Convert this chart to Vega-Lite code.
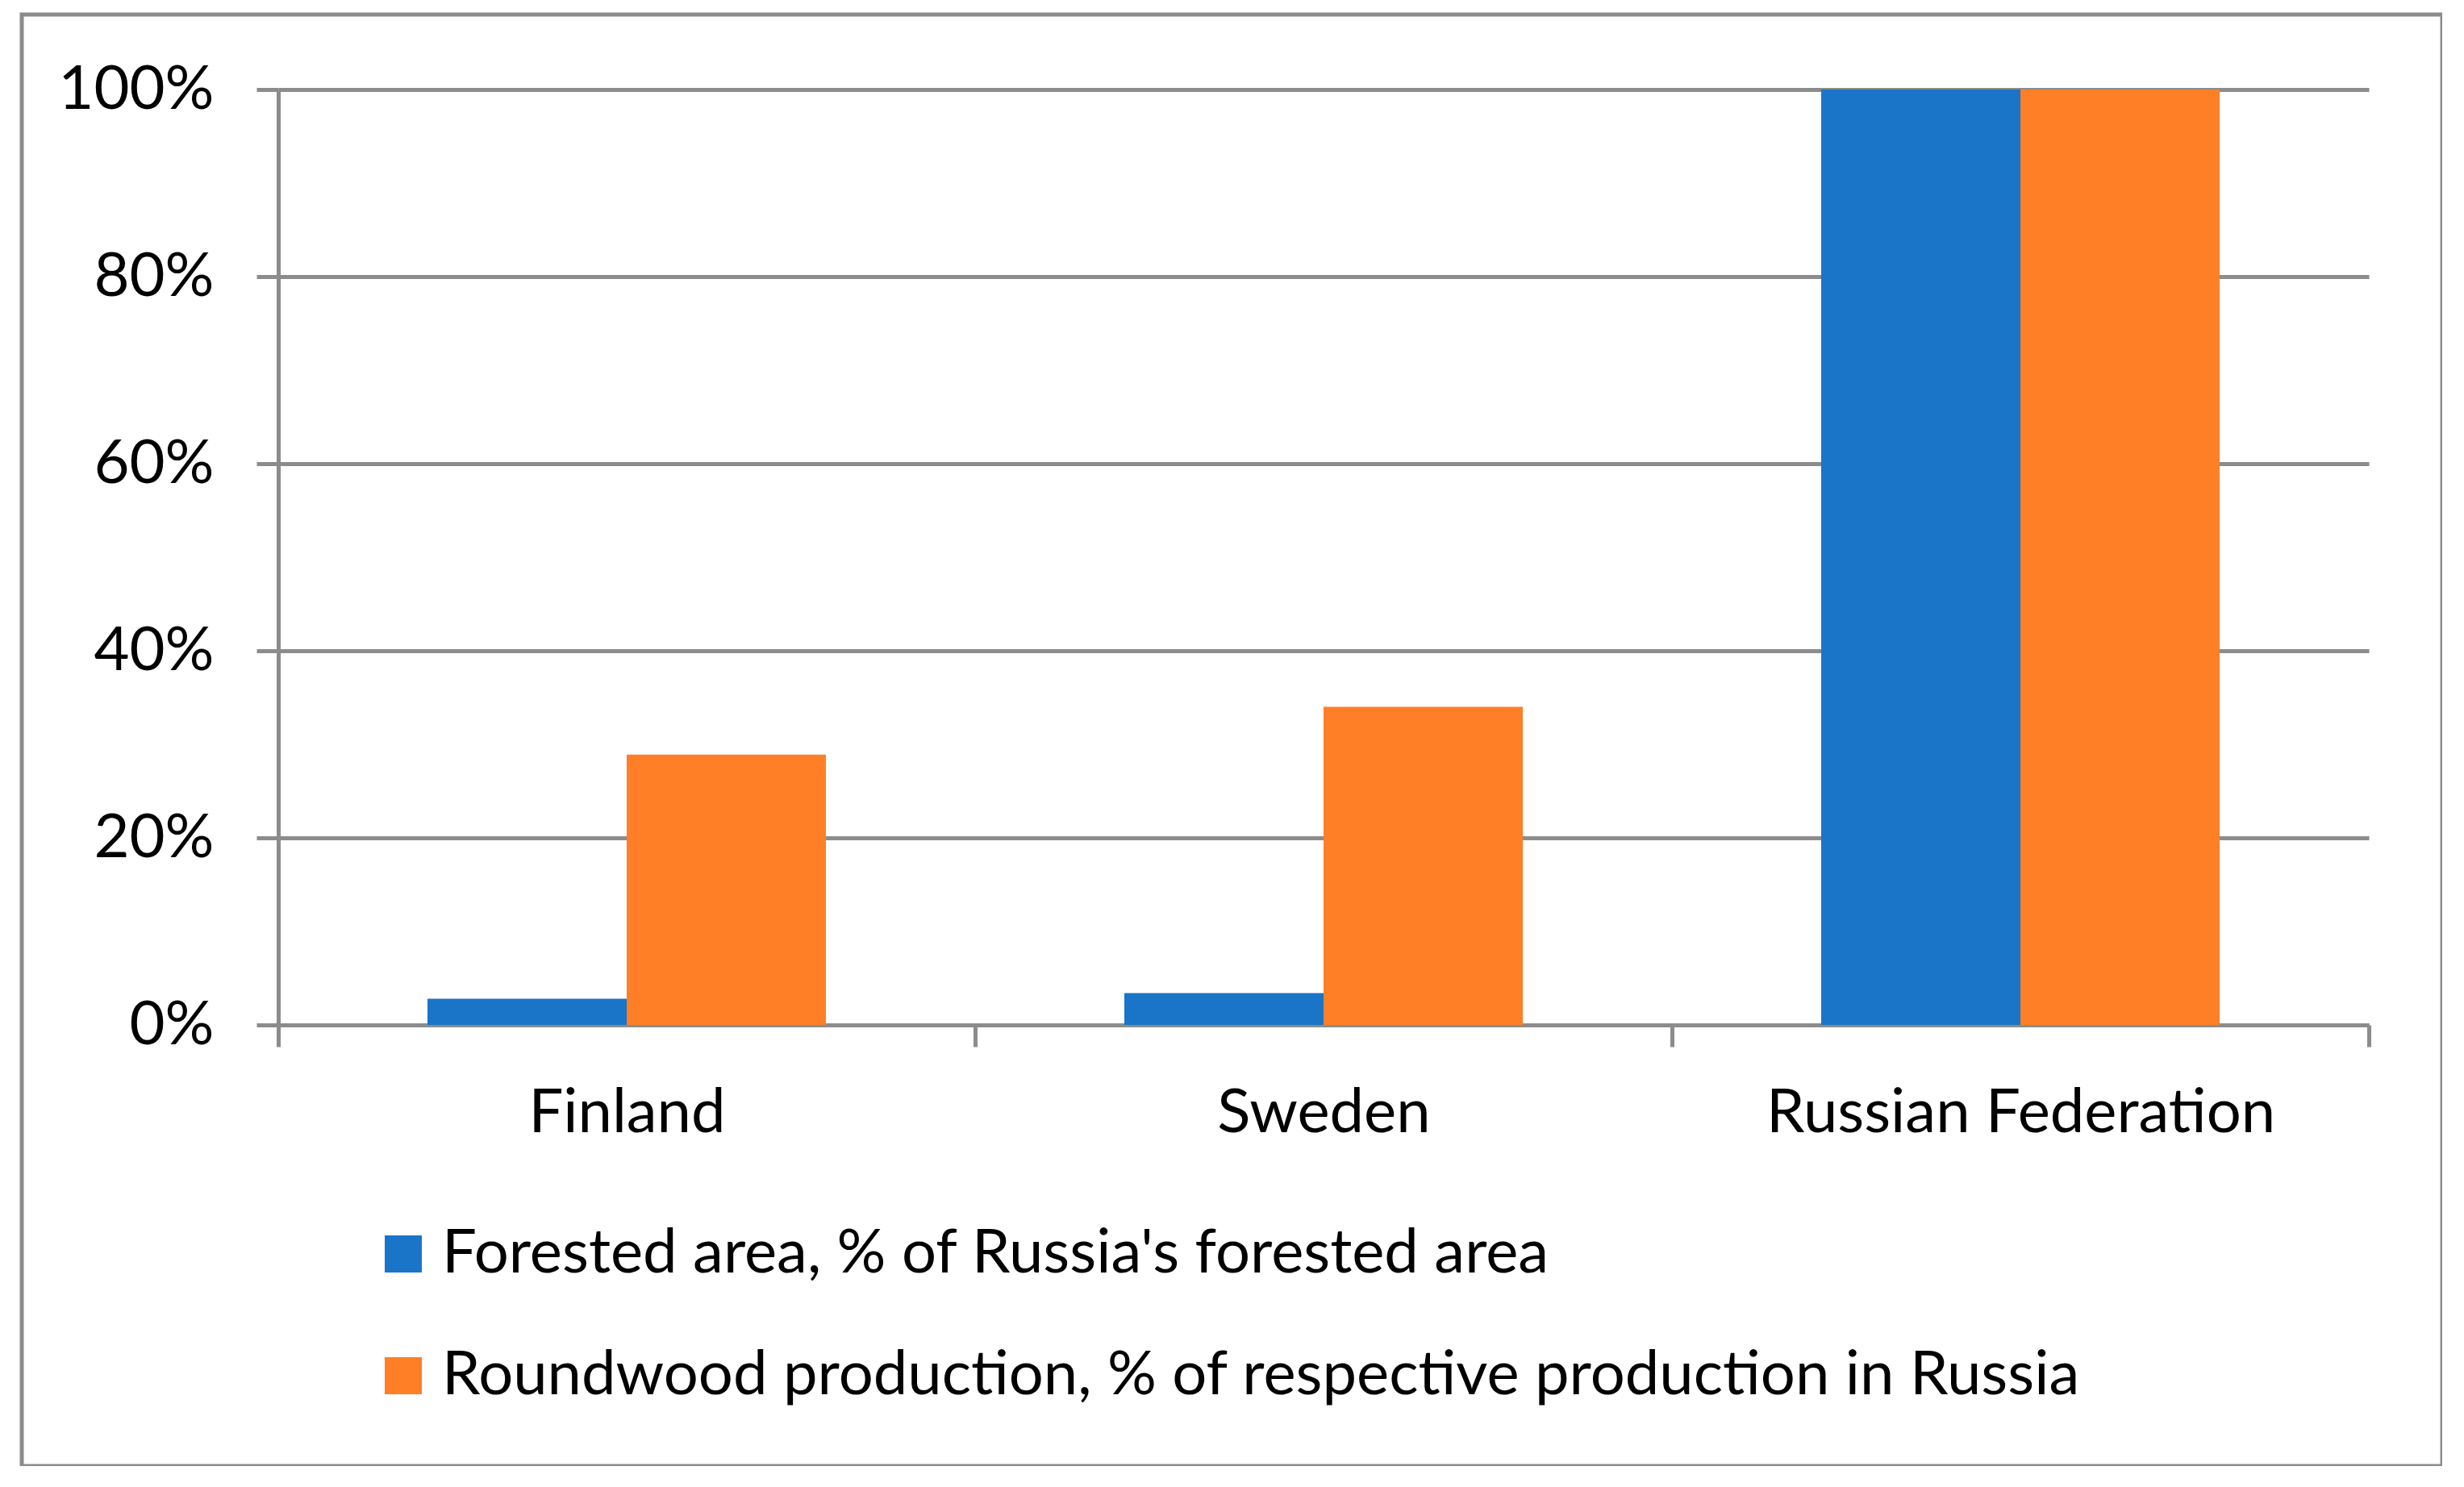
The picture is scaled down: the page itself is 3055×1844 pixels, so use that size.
{
  "$schema": "https://vega.github.io/schema/vega-lite/v6.json",
  "autosize": {"type": "none"},
  "padding": {"left": 27, "top": 18, "right": 0, "bottom": 0},
  "width": 3001,
  "height": 1800,
  "background": "white",
  "config": {
    "view": {"stroke": "#8c8c8c", "strokeWidth": 5},
    "font": "Lato"
  },
  "data": {
    "values": [
      {"country": "Finland", "series": "Forested area, % of Russia's forested area", "value": 0.028},
      {"country": "Finland", "series": "Roundwood production, % of respective production in Russia", "value": 0.289},
      {"country": "Sweden", "series": "Forested area, % of Russia's forested area", "value": 0.034},
      {"country": "Sweden", "series": "Roundwood production, % of respective production in Russia", "value": 0.340},
      {"country": "Russian Federation", "series": "Forested area, % of Russia's forested area", "value": 1.0},
      {"country": "Russian Federation", "series": "Roundwood production, % of respective production in Russia", "value": 1.0}
    ]
  },
  "mark": {"type": "bar", "strokeWidth": 0},
  "encoding": {
    "x": {
      "field": "country",
      "type": "nominal",
      "sort": ["Finland", "Sweden", "Russian Federation"],
      "scale": {"range": [318, 2910], "paddingInner": 0, "paddingOuter": 0},
      "axis": {
        "title": null,
        "labelAngle": 0,
        "offset": -547,
        "tickBand": "extent",
        "tickSize": 27,
        "tickWidth": 5,
        "tickColor": "#8c8c8c",
        "domainColor": "#8c8c8c",
        "domainWidth": 5,
        "labelFont": "Lato",
        "labelFontSize": 76,
        "labelColor": "#000000",
        "labelPadding": 45,
        "labelLimit": 0,
        "grid": false
      }
    },
    "xOffset": {
      "field": "series",
      "type": "nominal",
      "sort": ["Forested area, % of Russia's forested area", "Roundwood production, % of respective production in Russia"],
      "scale": {"paddingOuter": 0.749, "paddingInner": 0}
    },
    "y": {
      "field": "value",
      "type": "quantitative",
      "scale": {"domain": [0, 1], "range": [1253, 93], "nice": false},
      "axis": {
        "title": null,
        "values": [0, 0.2, 0.4, 0.6, 0.8, 1],
        "format": ".0%",
        "offset": -318,
        "tickSize": 27,
        "tickWidth": 5,
        "tickColor": "#8c8c8c",
        "domainColor": "#8c8c8c",
        "domainWidth": 5,
        "grid": true,
        "gridColor": "#8c8c8c",
        "gridWidth": 5,
        "labelFont": "Lato",
        "labelFontSize": 76,
        "labelColor": "#000000",
        "labelPadding": 53,
        "labelLimit": 0
      }
    },
    "color": {
      "field": "series",
      "type": "nominal",
      "sort": ["Forested area, % of Russia's forested area", "Roundwood production, % of respective production in Russia"],
      "scale": {"range": ["#1a75c8", "#ff7f27"]},
      "legend": {
        "orient": "none",
        "legendX": 435,
        "legendY": 1499,
        "direction": "vertical",
        "title": null,
        "symbolType": "square",
        "symbolSize": 2116,
        "symbolStrokeWidth": 0,
        "labelFont": "Lato",
        "labelFontSize": 76,
        "labelColor": "#000000",
        "labelOffset": 10,
        "labelLimit": 0,
        "rowPadding": 75,
        "padding": 0
      }
    }
  }
}
